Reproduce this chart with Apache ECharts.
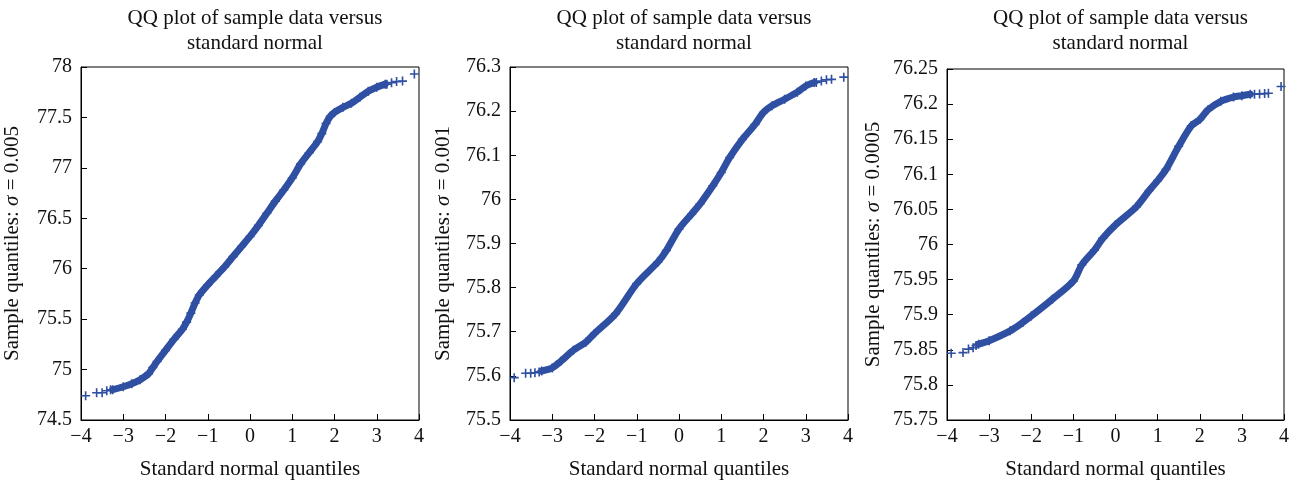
<!DOCTYPE html>
<html><head><meta charset="utf-8">
<script src="https://cdn.jsdelivr.net/npm/echarts@6/dist/echarts.min.js"></script>
<style>html,body{margin:0;padding:0;background:#fff}#c{width:1297px;height:485px}</style>
</head><body><div id="c"></div>
<script>
// ---- data ----
const titleText = "QQ plot of sample data versus\nstandard normal";
const xName = "Standard normal quantiles";
const sigmaLabels = ["0.005", "0.001", "0.0005"];
const xTicks = [-4, -3, -2, -1, 0, 1, 2, 3, 4];

// plot 1 (sigma = 0.005): dense band and isolated tail markers [quantile, value]
const band1 = [[-3.25,74.80],[-3.0,74.83],[-2.8,74.86],[-2.6,74.90],[-2.4,74.96],[-2.3,75.02],[-2.2,75.08],[-2.0,75.19],[-1.8,75.30],[-1.6,75.40],[-1.5,75.47],[-1.4,75.56],[-1.3,75.66],[-1.2,75.74],[-1.0,75.84],[-0.8,75.93],[-0.6,76.02],[-0.4,76.12],[-0.2,76.22],[0,76.32],[0.2,76.43],[0.4,76.55],[0.6,76.67],[0.8,76.78],[1.0,76.90],[1.2,77.04],[1.4,77.15],[1.6,77.26],[1.7,77.34],[1.8,77.44],[1.9,77.51],[2.0,77.55],[2.2,77.60],[2.4,77.64],[2.6,77.70],[2.8,77.76],[3.0,77.80],[3.2,77.83]];
const tail1 = [[-3.89,74.74],[-3.63,74.77],[-3.50,74.77],[-3.39,74.79],[-3.30,74.80],[3.24,77.83],[3.35,77.845],[3.47,77.855],[3.61,77.86],[3.89,77.93]];

// plot 2 (sigma = 0.001)
const band2 = [[-3.25,75.611],[-3.0,75.618],[-2.8,75.633],[-2.5,75.658],[-2.2,75.677],[-2.0,75.696],[-1.5,75.741],[-1.0,75.809],[-0.5,75.858],[-0.3,75.884],[0,75.933],[0.3,75.967],[0.5,75.990],[0.8,76.031],[1.0,76.061],[1.2,76.095],[1.5,76.136],[1.8,76.170],[2.0,76.197],[2.2,76.212],[2.5,76.227],[2.8,76.243],[3.0,76.257],[3.2,76.265]];
const tail2 = [[-3.90,75.596],[-3.63,75.606],[-3.51,75.606],[-3.41,75.607],[-3.31,75.609],[3.25,76.265],[3.37,76.268],[3.49,76.271],[3.61,76.272],[3.90,76.277]];

// plot 3 (sigma = 0.0005)
const band3 = [[-3.25,75.858],[-3.0,75.863],[-2.5,75.877],[-2.2,75.889],[-2.0,75.898],[-1.5,75.922],[-1.0,75.948],[-0.8,75.971],[-0.5,75.992],[-0.3,76.009],[0,76.028],[0.5,76.054],[0.8,76.077],[1.0,76.091],[1.2,76.107],[1.5,76.140],[1.8,76.169],[2.0,76.178],[2.2,76.192],[2.5,76.204],[2.8,76.210],[3.0,76.212],[3.2,76.214]];
const tail3 = [[-3.90,75.845],[-3.62,75.846],[-3.49,75.851],[-3.38,75.853],[-3.31,75.856],[3.30,76.214],[3.42,76.2145],[3.54,76.215],[3.63,76.2155],[3.93,76.225]];

const yRanges = [[74.5,78,0.5],[75.5,76.3,0.1],[75.75,76.25,0.05]];
// ---- rendering ----
const FONT = "Liberation Serif";
const COLOR = "#2f4fa2";
const PLUS = "path://M0,4.1H4.1V0H5.9V4.1H10V5.9H5.9V10H4.1V5.9H0Z";
const grids = [
  {left:81, top:67, width:338, height:355},
  {left:510, top:67, width:338, height:355},
  {left:947, top:69, width:337, height:354}
];
const yGaps = [58, 56, 63];
const bands = [band1, band2, band3];
const tails = [tail1, tail2, tail3];

const option = {animation:false, title:[], grid:[], xAxis:[], yAxis:[], series:[]};
grids.forEach((g, i) => {
  option.grid.push(Object.assign({show:true, borderColor:'#000', borderWidth:1, backgroundColor:'transparent'}, g));
  option.title.push({text:titleText, left:g.left + g.width/2, top:1, textAlign:'center',
    textStyle:{fontFamily:FONT, fontWeight:'normal', fontSize:21, lineHeight:25, color:'#111'}});
  option.xAxis.push({gridIndex:i, type:'value', min:-4, max:4, interval:1,
    name:xName, nameLocation:'middle', nameGap:39,
    nameTextStyle:{fontFamily:FONT, fontSize:21, color:'#111'},
    axisLine:{show:true, onZero:false, lineStyle:{color:'#000', width:1}},
    axisTick:{show:true, inside:true, length:6, lineStyle:{color:'#000'}},
    axisLabel:{fontFamily:FONT, fontSize:20, color:'#111', margin:7,
      formatter:v => String(v).replace('-', '\u2212')},
    splitLine:{show:false}});
  const r = yRanges[i];
  option.yAxis.push({gridIndex:i, type:'value', min:r[0], max:r[1], interval:r[2],
    name:'{n|Sample quantiles: }{s|\u03c3}{n| = ' + sigmaLabels[i] + '}',
    nameLocation:'middle', nameGap:yGaps[i], nameRotate:90,
    nameTextStyle:{fontFamily:FONT, fontSize:21, color:'#111',
      rich:{n:{fontFamily:FONT, fontSize:21, color:'#111'}, s:{fontFamily:FONT, fontSize:21, fontStyle:'italic', color:'#111'}}},
    axisLine:{show:true, onZero:false, lineStyle:{color:'#000', width:1}},
    axisTick:{show:true, inside:true, length:6, lineStyle:{color:'#000'}},
    axisLabel:{fontFamily:FONT, fontSize:20, color:'#111', margin:9,
      formatter:v => String(parseFloat(v.toFixed(4)))},
    splitLine:{show:false}});
  option.series.push({type:'line', xAxisIndex:i, yAxisIndex:i, data:bands[i], showSymbol:false,
    smooth:0.3, lineStyle:{color:COLOR, width:7, cap:'round', join:'round'}, silent:true});
  option.series.push({type:'scatter', xAxisIndex:i, yAxisIndex:i, data:tails[i].concat(bands[i]),
    symbol:PLUS, symbolSize:9, itemStyle:{color:COLOR, opacity:1}, silent:true});
});
echarts.init(document.getElementById('c'), null, {renderer:'canvas'}).setOption(option);
</script></body></html>
